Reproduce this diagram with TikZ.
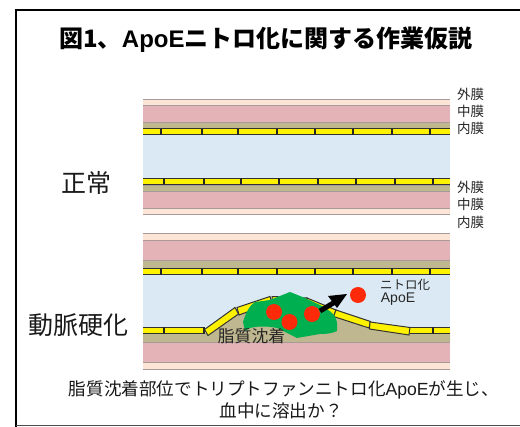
\documentclass[tikz,border=0pt]{standalone}
\usepackage{fontspec}
\setmainfont{Noto Sans CJK JP}
\newfontfamily\lat{Liberation Sans}
\definecolor{peach}{HTML}{FCE4D6}
\definecolor{muscle}{HTML}{E3B3B7}
\definecolor{intima}{HTML}{BFB78F}
\definecolor{lumen}{HTML}{DAE9F3}
\definecolor{plaque}{HTML}{00B050}
\definecolor{dot}{HTML}{FF2A0A}
\definecolor{edge}{HTML}{A89A98}
\newcommand{\wallband}[4]{%
  \fill[#1] (143,#2) rectangle (450,#3);
  \draw[edge,line width=#4] (143,#2) -- (450,#2);
  \draw[edge,line width=#4] (143,#3) -- (450,#3);}
\tikzset{
  x=1pt,y=-1pt,
  cellband/.style={fill=yellow,draw=black!80,line width=1pt},
  divider/.style={draw=black!85,line width=1.1pt},
  cellline/.style={draw=black!80,line width=1pt},
  reddot/.style={fill=dot,draw=none},
  lbl/.style={inner sep=0pt,font=\fontsize{13.5}{15}\selectfont,text=black!85},
  big/.style={inner sep=0pt,font=\fontsize{25}{29}\selectfont,text=black!90},
  notetext/.style={inner sep=0pt,font=\fontsize{17.6}{21}\selectfont,text=black!90}
}
\begin{document}
\begin{tikzpicture}
\useasboundingbox (0,0) rectangle (520,427);
\fill[white] (0,0) rectangle (520,427);
% frame
\draw[black,line width=2pt] (16,427) -- (16,10) -- (520,10);
\draw[black!70,line width=1.2pt] (16,425.5) -- (520,425.5);

% upper vessel: normal wall
\fill[lumen] (143,134) rectangle (450,179);
\wallband{peach}{99.5}{105}{0.6pt}
\wallband{muscle}{105}{122}{0.7pt}
\wallband{intima}{122}{129}{0.7pt}
\fill[yellow] (143,129) rectangle (450,135);
\draw[cellline] (143,129) -- (450,129) (143,135) -- (450,135);
\foreach \x in {161,202,238,277,315,353,392,430}
  \draw[divider] (\x,129) -- (\x,135);

\fill[yellow] (143,178.5) rectangle (450,184.5);
\draw[cellline] (143,178.5) -- (450,178.5) (143,184.5) -- (450,184.5);
\foreach \x in {164,204,241,279,318,356,395,433}
  \draw[divider] (\x,178.5) -- (\x,184.5);
\wallband{intima}{185}{191}{0.7pt}
\wallband{muscle}{191}{208}{0.7pt}
\wallband{peach}{208}{214}{0.4pt}

% lower vessel: lumen and thickened wall
\fill[lumen] (143,274) rectangle (450,328);
\wallband{peach}{233.5}{240}{0.6pt}
\wallband{muscle}{240}{260}{0.7pt}
\wallband{intima}{260}{268}{0.7pt}
\fill[yellow] (143,268) rectangle (450,275);
\draw[cellline] (143,268.3) -- (450,268.3) (143,275) -- (450,275);
\foreach \x in {161,202,238,277,315,353,392,430}
  \draw[divider] (\x,268.3) -- (\x,275);

% deposit under the raised endothelium
\fill[intima] (143,333) -- (207,333) -- (236,311) -- (270,300) -- (307,301)
  -- (336,314) -- (370,326) -- (410,331) -- (450,333) -- (450,342) -- (143,342) -- cycle;
\wallband{muscle}{342}{362}{0.7pt}
\wallband{peach}{362}{369}{0.4pt}

% flat and raised endothelial cells
\fill[yellow] (143,327.5) rectangle (204,334);
\fill[yellow] (410,327.5) rectangle (450,334);
\draw[cellline] (143,327.5) -- (204,327.5) (143,334) -- (204,334)
  (410,327.5) -- (450,327.5) (410,334) -- (450,334);
\draw[divider] (164,327.5) -- (164,334) (204,327.5) -- (204,334) (433,327.5) -- (433,334);
\draw[cellband] (204.5,329.5) -- (235,307.5) -- (238.5,314) -- (208,335.5) -- cycle;
\draw[cellband] (237,307.5) -- (270,296.5) -- (272,303) -- (239,315) -- cycle;
\draw[cellband] (272,296.5) -- (307,298) -- (307,304.5) -- (272,303) -- cycle;
\draw[cellband] (307,298) -- (336,310) -- (333.5,316.5) -- (305,304.5) -- cycle;
\draw[cellband] (336,310) -- (370.5,321.5) -- (369,328) -- (333.5,316.5) -- cycle;
\draw[cellband] (370,322) -- (410,327.5) -- (409,335) -- (369.5,329) -- cycle;

% plaque
\fill[plaque] (243,322) .. controls (246,312) and (250,305) .. (255,302)
  -- (270,300) -- (290,292) -- (305,298) -- (322,306) -- (331,312)
  .. controls (336,316) and (338,322) .. (337,331)
  .. controls (330,334) and (325,334) .. (320,334)
  -- (297,338) -- (277,328) .. controls (268,326) and (258,326) .. (250,328)
  -- (245,331) -- cycle;
\fill[reddot] (274,312) circle (8);
\fill[reddot] (289.5,322) circle (8);
\fill[reddot] (312,314) circle (8);
\fill[reddot] (358,295) circle (8);
\coordinate (shaftstart) at (320,311);
\coordinate (shaftend) at (335,302);
\draw[black,line width=5pt] (shaftstart) -- (shaftend);
\fill[black] (347,294) -- (328,296) -- (337,308) -- cycle;

% texts
\node[inner sep=0pt,font=\fontsize{24}{28}\selectfont\bfseries] (title) at (266,40)
  {図1、{\lat\bfseries ApoE}ニトロ化に関する作業仮説};
\node[lbl] (a1) at (470.5,94) {外膜};
\node[lbl] (a2) at (470.5,111) {中膜};
\node[lbl] (a3) at (470.5,128.5) {内膜};
\node[lbl] (b1) at (470.5,187) {外膜};
\node[lbl] (b2) at (470.5,204) {中膜};
\node[lbl] (b3) at (470.5,222) {内膜};
\node[big] (normal) at (86,183) {正常};
\node[big] (athero) at (78,325) {動脈硬化};
\node[inner sep=0pt,font=\fontsize{16.8}{19}\selectfont,text=black!85] (lipid) at (251.5,336) {脂質沈着};
\node[inner sep=0pt,font=\fontsize{12.5}{14}\selectfont,text=black!85] (nitro) at (405,285) {ニトロ化};
\node[inner sep=0pt,font=\fontsize{14}{16}\selectfont\lat,text=black!85] (apoe) at (398,299) {ApoE};
\node[notetext] (note1) at (284,390) {脂質沈着部位でトリプトファンニトロ化{\lat ApoE}が生じ、};
\node[notetext] (note2) at (281,411) {血中に溶出か？};
\end{tikzpicture}
\end{document}
